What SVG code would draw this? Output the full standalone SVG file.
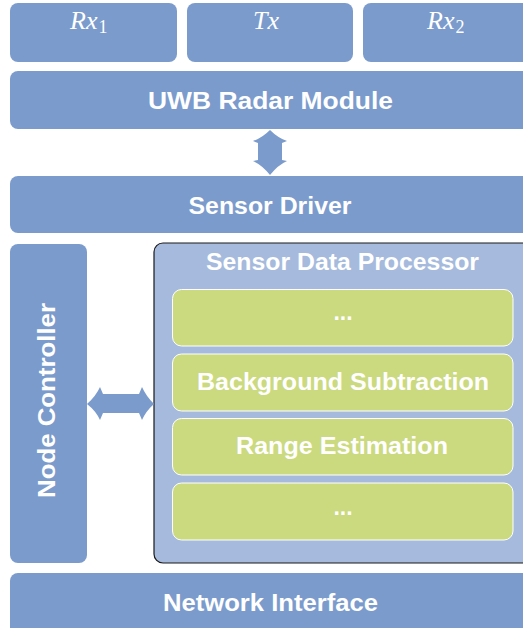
<svg xmlns="http://www.w3.org/2000/svg" width="523" height="628" viewBox="0 0 523 628">
<style>
.blk{fill:#7b9bcc}
.sdp{fill:#a5badc;stroke:#1a1a1a;stroke-width:1.2}
.grn{fill:#cbd97f;stroke:#ffffff;stroke-width:1}
.t{font-family:"Liberation Sans",Arial,sans-serif;font-weight:bold;font-size:23px;fill:#ffffff;text-anchor:middle}
.m{font-family:"Liberation Serif","Times New Roman",serif;font-style:italic;font-size:26px;fill:#ffffff}
.sub{font-style:normal;font-size:18px}
.arr{fill:#7b9bcc}
</style>
<rect width="523" height="628" fill="#ffffff"/>
<g id="rx1"><rect class="blk" x="10" y="3" width="167" height="59" rx="8"/><text class="m" x="70" y="29">Rx<tspan class="sub" dx="1" dy="4">1</tspan></text></g>
<g id="tx"><rect class="blk" x="187" y="3" width="166" height="59" rx="8"/><text class="m" x="253" y="29">Tx</text></g>
<g id="rx2"><rect class="blk" x="363" y="3" width="175" height="59" rx="8"/><text class="m" x="427" y="29">Rx<tspan class="sub" dx="1" dy="4">2</tspan></text></g>
<g id="uwb"><rect class="blk" x="10" y="71" width="530" height="58" rx="8"/><text class="t" x="270.5" y="109" textLength="245" lengthAdjust="spacingAndGlyphs">UWB Radar Module</text></g>
<g id="driver"><rect class="blk" x="10" y="176" width="530" height="57" rx="8"/><text class="t" x="270" y="214" textLength="163" lengthAdjust="spacingAndGlyphs">Sensor Driver</text></g>
<g id="node-controller"><rect class="blk" x="10" y="244" width="77" height="319" rx="8"/><text class="t" transform="translate(55,400.5) rotate(-90)" x="0" y="0" textLength="195" lengthAdjust="spacingAndGlyphs">Node Controller</text></g>
<g id="sdp"><rect class="sdp" x="154" y="243" width="390" height="320" rx="9"/><text class="t" x="342.5" y="270" textLength="273" lengthAdjust="spacingAndGlyphs">Sensor Data Processor</text></g>
<g id="stage1"><rect class="grn" x="172.5" y="289.5" width="340.5" height="56.5" rx="9"/><text class="t" x="343" y="320">...</text></g>
<g id="background-subtraction"><rect class="grn" x="172.5" y="354" width="340.5" height="57" rx="9"/><text class="t" x="343" y="390" textLength="292" lengthAdjust="spacingAndGlyphs">Background Subtraction</text></g>
<g id="range-estimation"><rect class="grn" x="172.5" y="418.5" width="340.5" height="56.5" rx="9"/><text class="t" x="342" y="454" textLength="212" lengthAdjust="spacingAndGlyphs">Range Estimation</text></g>
<g id="stage4"><rect class="grn" x="172.5" y="483" width="340.5" height="57" rx="9"/><text class="t" x="343" y="515">...</text></g>
<g id="network"><rect class="blk" x="10" y="573" width="530" height="70" rx="8"/><text class="t" x="270.5" y="611" textLength="215" lengthAdjust="spacingAndGlyphs">Network Interface</text></g>
<g id="connectors">
<path class="arr" d="M270,130 Q262,138 253,141 L258,143 L258,160 L253,161 Q262,165 270,175 Q278,165 287,161 L282,160 L282,143 L287,141 Q278,138 270,130 Z"/>
<path class="arr" d="M87,404 Q96,396 100,387 L103,394 L139,394 L142,387 Q146,396 154,404 Q146,411 142,420 L139,413 L103,413 L100,420 Q96,411 87,404 Z"/>
</g>
</svg>
